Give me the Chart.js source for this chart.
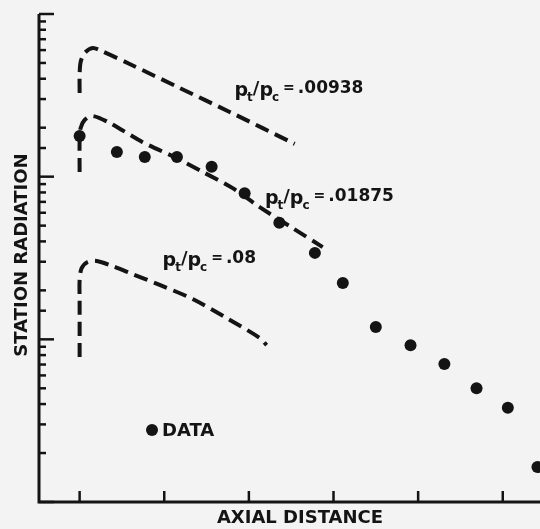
<!DOCTYPE html>
<html>
<head>
<meta charset="utf-8">
<script src="https://cdn.jsdelivr.net/npm/chart.js@4/dist/chart.umd.min.js"></script>
<style>
	html, body { margin: 0; padding: 0; background: #f3f3f3; }
	#wrap { width: 540px; height: 529px; }
</style>
</head>
<body>
<div id="wrap"><canvas id="radChart" width="540" height="529"></canvas></div>
<script>
// measured station radiation (axial distance in tick units, radiation on log scale)
const dataX = [0, 0.44, 0.77, 1.15, 1.56, 1.95, 2.36, 2.78, 3.11, 3.50, 3.91, 4.31, 4.69, 5.06, 5.41];
const dataY = [178, 142, 132, 132, 115, 79, 52, 34, 22.2, 11.9, 9.2, 7.05, 5.0, 3.8, 1.64];

// predicted curves for each pressure ratio
const ratioLabels = ['.00938', '.01875', '.08'];
const curveAX = [0, 0, 0.012, 0.059, 0.154, 0.26, 0.591, 1.182, 1.773, 2.541];
const curveAY = [327, 422, 507, 576, 618, 592, 493, 351, 250, 159];
const curveBX = [0, 0, 0.012, 0.059, 0.154, 0.355, 0.745, 1.147, 1.454, 1.809, 2.128, 2.518, 2.872];
const curveBY = [107, 168, 199, 223, 236, 214, 163, 130, 107, 85, 65, 48.3, 36.9];
const curveCX = [0, 0, 0, 0.024, 0.095, 0.201, 0.39, 0.591, 0.946, 1.336, 1.738, 2.128, 2.21];
const curveCY = [7.8, 17.5, 23.2, 27.4, 29.9, 30.3, 28.2, 25.6, 21.6, 17.7, 13.5, 10.2, 9.2];

// label anchors in data units (start of text, baseline of digits)
const labelX = [1.83, 2.19, 0.98];
const labelY = [328, 71, 29.4];

const ink = '#141414';
const fontName = '"DejaVu Sans", "Liberation Sans", sans-serif';

function toPoints(xs, ys) {
	return xs.map((x, i) => ({ x: x, y: ys[i] }));
}

function curveSet(xs, ys) {
	return {
		type: 'line',
		data: toPoints(xs, ys),
		borderColor: ink,
		borderWidth: 4,
		borderDash: [14, 7],
		borderCapStyle: 'butt',
		pointRadius: 0,
		tension: 0.3,
		fill: false,
		clip: false
	};
}

function drawRatioLabel(ctx, x, y, value) {
	let cx = x;
	ctx.font = 'bold 19px ' + fontName;
	ctx.fillText('p', cx, y + 3);
	cx += ctx.measureText('p').width - 1;
	ctx.font = 'bold 12px ' + fontName;
	ctx.fillText('t', cx, y + 8);
	cx += ctx.measureText('t').width;
	ctx.font = 'bold 18px ' + fontName;
	ctx.fillText('/', cx, y + 1);
	cx += ctx.measureText('/').width;
	ctx.font = 'bold 19px ' + fontName;
	ctx.fillText('p', cx, y + 3);
	cx += ctx.measureText('p').width - 1;
	ctx.font = 'bold 12px ' + fontName;
	ctx.fillText('c', cx, y + 8);
	cx += ctx.measureText('c').width + 4;
	ctx.font = 'bold 14px ' + fontName;
	ctx.fillText('=', cx, y - 1);
	cx += ctx.measureText('=').width + 3;
	ctx.font = 'bold 17px ' + fontName;
	ctx.fillText(value, cx, y);
}

const paperPlugin = {
	id: 'paper',
	beforeDraw(chart) {
		const ctx = chart.ctx;
		ctx.save();
		ctx.fillStyle = '#f3f3f3';
		ctx.fillRect(0, 0, chart.width, chart.height);
		ctx.restore();
	},
	afterDraw(chart) {
		const ctx = chart.ctx;
		const area = chart.chartArea;
		const xs = chart.scales.x;
		const ys = chart.scales.y;
		ctx.save();
		ctx.strokeStyle = ink;
		ctx.fillStyle = ink;
		ctx.lineCap = 'butt';

		// axis lines
		ctx.lineWidth = 3;
		ctx.beginPath();
		ctx.moveTo(area.left, area.top);
		ctx.lineTo(area.left, area.bottom);
		ctx.lineTo(area.right, area.bottom);
		ctx.stroke();

		// inward ticks
		ctx.lineWidth = 2.5;
		ys.ticks.forEach(t => {
			const py = ys.getPixelForValue(t.value);
			const lg = Math.log10(t.value);
			const len = Math.abs(lg - Math.round(lg)) < 1e-6 ? 15 : 7;
			ctx.beginPath();
			ctx.moveTo(area.left, py);
			ctx.lineTo(area.left + len, py);
			ctx.stroke();
		});
		xs.ticks.forEach(t => {
			const px = xs.getPixelForValue(t.value);
			ctx.beginPath();
			ctx.moveTo(px, area.bottom);
			ctx.lineTo(px, area.bottom - 11);
			ctx.stroke();
		});

		// axis titles
		ctx.font = 'bold 18px ' + fontName;
		ctx.textAlign = 'center';
		ctx.textBaseline = 'alphabetic';
		ctx.fillText('AXIAL DISTANCE', 300, 523);
		ctx.save();
		ctx.translate(27, 255);
		ctx.rotate(-Math.PI / 2);
		ctx.fillText('STATION RADIATION', 0, 0);
		ctx.restore();

		// curve labels
		ctx.textAlign = 'left';
		ratioLabels.forEach((v, i) => {
			drawRatioLabel(ctx, xs.getPixelForValue(labelX[i]), ys.getPixelForValue(labelY[i]), v);
		});

		// legend for the data dots
		ctx.beginPath();
		ctx.arc(152, 430, 6, 0, Math.PI * 2);
		ctx.fill();
		ctx.font = 'bold 18px ' + fontName;
		ctx.fillText('DATA', 162, 436);
		ctx.restore();
	}
};

const chart = new Chart(document.getElementById('radChart'), {
	type: 'scatter',
	data: {
		datasets: [
			curveSet(curveAX, curveAY),
			curveSet(curveBX, curveBY),
			curveSet(curveCX, curveCY),
			{
				type: 'scatter',
				data: toPoints(dataX, dataY),
				backgroundColor: ink,
				borderColor: ink,
				borderWidth: 0,
				pointRadius: 6,
				clip: false
			}
		]
	},
	options: {
		responsive: false,
		animation: false,
		layout: { autoPadding: false, padding: { left: 39, top: 14, right: 0, bottom: 27 } },
		plugins: {
			legend: { display: false },
			tooltip: { enabled: false }
		},
		scales: {
			x: {
				type: 'linear',
				display: false,
				min: -0.48,
				max: 5.44,
				ticks: { stepSize: 1, includeBounds: false, autoSkip: false }
			},
			y: {
				type: 'logarithmic',
				display: false,
				min: 1,
				max: 1000,
				ticks: { autoSkip: false }
			}
		}
	},
	plugins: [paperPlugin]
});
</script>
</body>
</html>
